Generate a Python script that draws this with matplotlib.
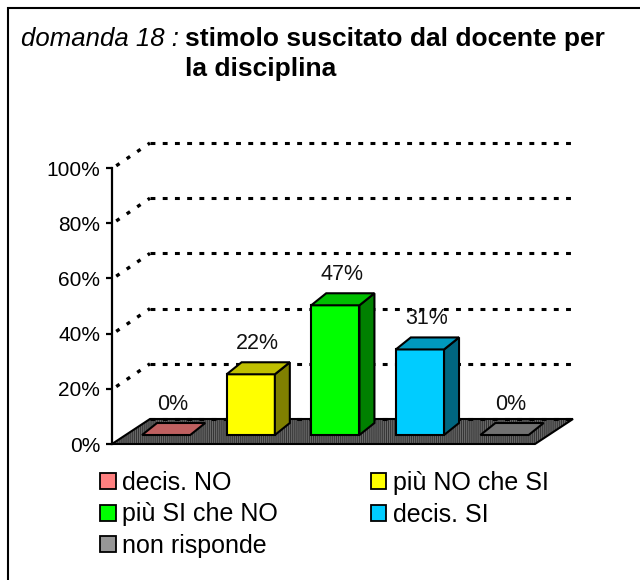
import matplotlib
matplotlib.use("Agg")
import matplotlib.pyplot as plt
from matplotlib.patches import Polygon, Rectangle, Patch
from matplotlib.colors import to_rgb

plt.rcParams['font.family'] = ['Liberation Sans', 'DejaVu Sans']
plt.rcParams['hatch.linewidth'] = 0.7

# ---- data ----
categories = ["decis. NO", "più NO che SI", "più SI che NO", "decis. SI", "non risponde"]
values = [0, 22, 47, 31, 0]
colors = ["#FF8080", "#FFFF00", "#00FF00", "#00CCFF", "#969696"]
yticks = [0, 20, 40, 60, 80, 100]
ytick_labels = ["0%", "20%", "40%", "60%", "80%", "100%"]
title_q = "domanda 18 :"
title_1 = "stimolo suscitato dal docente per"
title_2 = "la disciplina"

W, H = 640, 580
fig = plt.figure(figsize=(W / 100, H / 100), dpi=100)
fig.patch.set_facecolor("white")

# outer frame (left & top visible)
fig.patches.append(Rectangle((7.5 / W, -0.1), 1.2, 1.1 - 7.5 / H,
                             transform=fig.transFigure, fill=False,
                             edgecolor="black", lw=1.5))

ax = fig.add_axes([112 / W, (H - 444) / H, 423 / W, 276 / H])
ax.set_xlim(0, 5)
ax.set_ylim(0, 100)
ax.set_facecolor("none")
for s in ["top", "right", "bottom"]:
    ax.spines[s].set_visible(False)
ax.spines["left"].set_linewidth(1.6)
ax.set_xticks([])
ax.set_yticks(yticks)
ax.set_yticklabels(ytick_labels, fontsize=15)
ax.tick_params(axis="y", length=4.5, width=1.6, pad=4, direction="out")

n = len(categories)
# depth of the floor / back wall in data units
DX, DY = 0.449, 9.06
# bar geometry
BASE = 3.26
SHIFT = 0.14
BW = 0.57
BDX, BDY = 0.177, 4.35

# floor
floor = [(0, 0), (n, 0), (n + DX, DY), (DX, DY)]
ax.add_patch(Polygon(floor, closed=True, facecolor="#6a6a6a", edgecolor="#333333",
                     lw=0, hatch="|" * 8, zorder=1, clip_on=False))
ax.add_patch(Polygon(floor, closed=True, fill=False, edgecolor="black",
                     lw=1.5, zorder=2, clip_on=False))

# back wall grid lines + diagonals
for v in yticks:
    ax.plot([DX, n + DX], [v + DY, v + DY], color="black", lw=2.2,
            linestyle=(0, (1.6, 2.4)), zorder=2.5, clip_on=False,
            solid_capstyle="butt", dash_capstyle="butt")
    if v > 0:
        ax.plot([0.05, DX], [v + 0.8, v + DY], color="black", lw=2.4,
                linestyle=(0, (1.2, 2.6)), zorder=2.5, clip_on=False)

def shade(c, f):
    r, g, b = to_rgb(c)
    return (r * f, g * f, b * f)

for i, (v, c) in enumerate(zip(values, colors)):
    xc = i + 0.5 + SHIFT
    x0, x1 = xc - BW / 2, xc + BW / 2
    top = BASE + v
    if v > 0:
        ax.bar(xc, v, bottom=BASE, width=BW, color=c, edgecolor="black",
               lw=1.5, zorder=5, clip_on=False)
        side = [(x1, BASE), (x1 + BDX, BASE + BDY), (x1 + BDX, top + BDY), (x1, top)]
        ax.add_patch(Polygon(side, closed=True, facecolor=shade(c, 0.5),
                             edgecolor="black", lw=1.5, zorder=5, clip_on=False))
    topf = [(x0, top), (x1, top), (x1 + BDX, top + BDY), (x0 + BDX, top + BDY)]
    ax.add_patch(Polygon(topf, closed=True, facecolor=shade(c, 0.75),
                         edgecolor="black", lw=1.5, zorder=5, clip_on=False))
    ax.text(xc + 0.075, top + 11.2, f"{v}%", ha="center", va="center",
            fontsize=15.5, color="#111111", zorder=6)

# title
fig.text(21 / W, 1 - 46 / H, title_q, fontsize=18.5, style="italic",
         ha="left", va="baseline")
fig.text(185 / W, 1 - 46 / H, title_1, fontsize=19, weight="bold",
         ha="left", va="baseline")
fig.text(185 / W, 1 - 76 / H, title_2, fontsize=19, weight="bold",
         ha="left", va="baseline")

# legend (row-wise order in two columns)
handles = [Patch(facecolor=c, edgecolor="black", lw=1.3) for c in colors]
order = [0, 2, 4, 1, 3]
leg = fig.legend([handles[k] for k in order], [categories[k] for k in order],
                 ncol=2, loc="upper left", bbox_to_anchor=(100 / W, 1 - 471 / H),
                 frameon=False, fontsize=18, handlelength=0.62, handleheight=0.62,
                 handletextpad=0.28, labelspacing=0.3, columnspacing=3.7,
                 borderpad=0, borderaxespad=0)

fig.savefig("out.png", dpi=100)
